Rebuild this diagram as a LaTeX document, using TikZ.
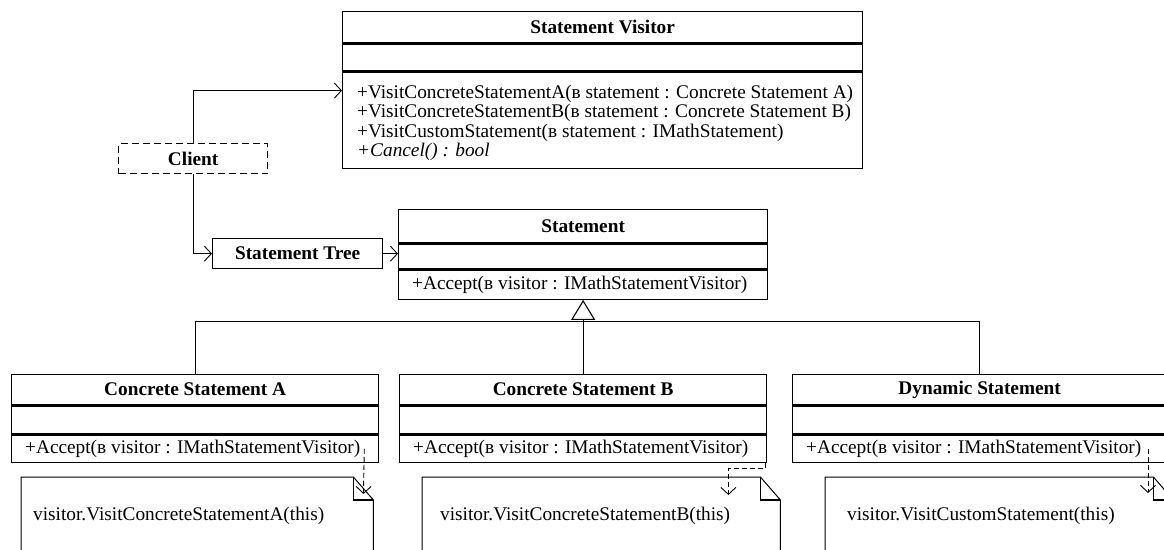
\documentclass[tikz,border=0pt]{standalone}
\usepackage{fontspec}
\setmainfont{Liberation Serif}
\usetikzlibrary{arrows.meta,calc}
\newcommand\fsz{\fontsize{19.3}{19.5}\selectfont}
\newcommand\drawnote[1]{%
  \draw[noteline] (#1.north west) -- ([xshift=-20pt]#1.north east) -- ([yshift=-23pt]#1.north east) -- (#1.south east) -- (#1.south west) -- cycle;
  \draw[foldline] ([xshift=-20pt]#1.north east) |- ([yshift=-23pt]#1.north east);}
\tikzset{
  box/.style={draw, line width=1.3pt, anchor=north west, inner sep=0pt, font=\fsz},
  hdr/.style={box, font=\fsz\bfseries},
  txt/.style={inner sep=0pt, font=\fsz},
  conn/.style={line width=0.9pt},
  assoc/.style={conn, -{Straight Barb[length=7pt,width=15pt,line width=0.9pt]}},
  gen/.style={conn, -{Triangle[open,length=20pt,width=24pt,line width=1.1pt]}},
  dep/.style={conn, dash pattern=on 5pt off 3pt, -{Straight Barb[length=7pt,width=15pt,line width=0.9pt]}},
  notebox/.style={anchor=north west, minimum height=100pt, inner sep=0pt},
  noteline/.style={line width=1pt},
  foldline/.style={line width=1.8pt},
}
\begin{document}
\begin{tikzpicture}[x=1pt,y=-1pt]
\useasboundingbox (0,0) rectangle (1164,549);
\fill[white] (0,0) rectangle (1164,549);
\clip (0,0) rectangle (1164,549);

% Statement Visitor
\node[hdr, minimum width=520pt, minimum height=31pt] (svH) at (342,11) {Statement Visitor};
\node[box, minimum width=520pt, minimum height=27pt] (svA) at (svH.south west) {};
\node[box, minimum width=520pt, minimum height=96pt] (svM) at (svA.south west) {};
\node[txt, anchor=base west] (sv1) at ($(svM.north west)+(15,26.5)$) {+VisitConcreteStatementA(в statement : Concrete Statement A)};
\node[txt, anchor=base west] (sv2) at ($(svM.north west)+(15,46)$) {+VisitConcreteStatementB(в statement : Concrete Statement B)};
\node[txt, anchor=base west] (sv3) at ($(svM.north west)+(15,65.5)$) {+VisitCustomStatement(в statement : IMathStatement)};
\node[txt, anchor=base west] (sv4) at ($(svM.north west)+(15,85)$) {\itshape +Cancel() : bool};

% Client and Statement Tree
\node[hdr, dash pattern=on 7pt off 4pt, minimum width=149pt, minimum height=30pt] (cl) at (118,143) {Client};
\node[hdr, minimum width=170pt, minimum height=30pt] (stree) at (212,238) {Statement Tree};

% Statement
\node[hdr, minimum width=369pt, minimum height=33pt] (sH) at (398,209) {Statement};
\node[box, minimum width=369pt, minimum height=25pt] (sA) at (sH.south west) {};
\node[box, minimum width=369pt, minimum height=29pt] (sM) at (sA.south west) {};
\node[txt, anchor=west] (sMt) at ($(sM.west)+(14,0)$) {+Accept(в visitor : IMathStatementVisitor)};

% Concrete Statement A
\node[hdr, minimum width=367pt, minimum height=30pt] (caH) at (11,374) {Concrete Statement A};
\node[box, minimum width=367pt, minimum height=28pt] (caA) at (caH.south west) {};
\node[box, minimum width=367pt, minimum height=27pt] (caM) at (caA.south west) {};
\node[txt, anchor=west] (caMt) at ($(caM.west)+(14,0)$) {+Accept(в visitor : IMathStatementVisitor)};

% Concrete Statement B
\node[hdr, minimum width=367pt, minimum height=30pt] (cbH) at (399,374) {Concrete Statement B};
\node[box, minimum width=367pt, minimum height=28pt] (cbA) at (cbH.south west) {};
\node[box, minimum width=367pt, minimum height=27pt] (cbM) at (cbA.south west) {};
\node[txt, anchor=west] (cbMt) at ($(cbM.west)+(14,0)$) {+Accept(в visitor : IMathStatementVisitor)};

% Dynamic Statement
\node[hdr, minimum width=374pt, minimum height=30pt] (dyH) at (792,374) {Dynamic Statement};
\node[box, minimum width=374pt, minimum height=28pt] (dyA) at (dyH.south west) {};
\node[box, minimum width=374pt, minimum height=27pt] (dyM) at (dyA.south west) {};
\node[txt, anchor=west] (dyMt) at ($(dyM.west)+(14,0)$) {+Accept(в visitor : IMathStatementVisitor)};

% Notes
\node[notebox, minimum width=352pt] (nA) at (21,477) {};
\node[notebox, minimum width=358pt] (nB) at (422,477) {};
\node[notebox, minimum width=348pt] (nC) at (825,477) {};
\drawnote{nA}
\drawnote{nB}
\drawnote{nC}
\node[txt, anchor=west] (nAt) at ($(nA.north west)+(12,39)$) {visitor.VisitConcreteStatementA(this)};
\node[txt, anchor=west] (nBt) at ($(nB.north west)+(18,39)$) {visitor.VisitConcreteStatementB(this)};
\node[txt, anchor=west] (nCt) at ($(nC.north west)+(22,39)$) {visitor.VisitCustomStatement(this)};

% Associations
\draw[assoc] (cl.north) |- ($(svM.north west)+(0,19)$);
\draw[assoc] (cl.south) |- (stree.west);
\draw[assoc] (stree.east) -- (stree.east -| sA.west);

% Generalization
\coordinate (bar) at ($(sM.south)+(0,22)$);
\draw[conn] (caH.north) |- (bar) -| (dyH.north);
\draw[conn] (cbH.north) -- (cbH.north |- bar);
\draw[gen] (bar) -- (sM.south);

% Note links
\coordinate (aF) at ($(caM.east)+(-15,0)$);
\draw[dep] (aF) -- ($(nA.north east)+(-10,17)$);
\coordinate (bF) at ($(cbM.south east)+(-2,0)$);
\draw[dep] (bF) -- ++(0,6) -| ($(nB.north east)+(-52,18)$);
\coordinate (cF) at ($(dyM.west)+(356,0)$);
\draw[dep] (cF) -- ($(nC.north west)+(323,16)$);
\end{tikzpicture}
\end{document}
